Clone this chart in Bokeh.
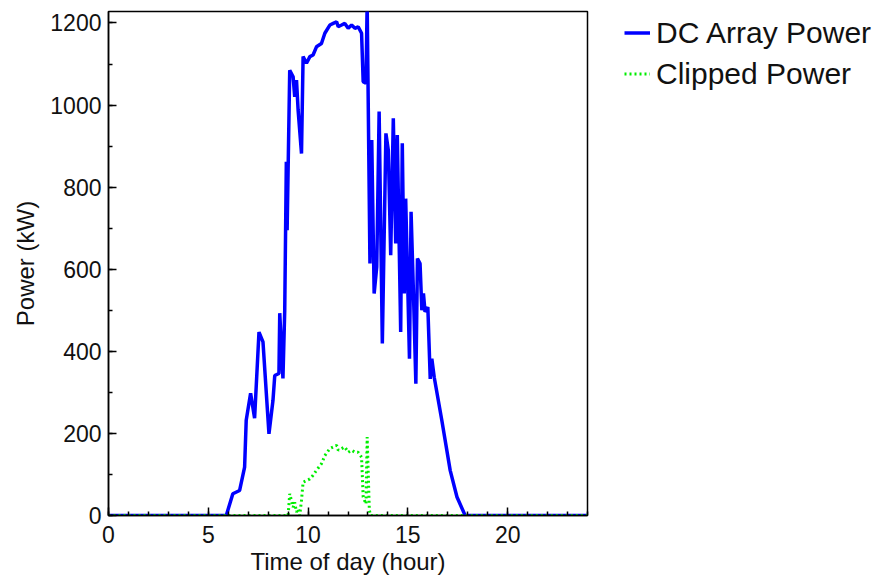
from bokeh.plotting import figure
from bokeh.models import Range1d, SingleIntervalTicker, Legend, LegendItem
from bokeh.embed import file_html
from bokeh.resources import INLINE

# DC array power (kW) vs time of day (hour)
dc_hour = [0.0, 5.9, 6.23, 6.57, 6.82, 6.90, 7.12, 7.32, 7.54, 7.74, 8.04, 8.24, 8.33, 8.54,
           8.58, 8.74, 8.83, 8.91, 8.95, 9.08, 9.25, 9.33, 9.42, 9.50, 9.67, 9.75, 9.92,
           10.09, 10.25, 10.42, 10.67, 10.84, 11.09, 11.26, 11.43, 11.51, 11.68, 11.84,
           12.01, 12.18, 12.35, 12.51, 12.68, 12.76, 12.90, 12.96, 13.10, 13.19, 13.31,
           13.44, 13.56, 13.72, 13.90, 14.02, 14.14, 14.27, 14.39, 14.47, 14.64, 14.72,
           14.82, 14.89, 15.08, 15.16, 15.28, 15.40, 15.48, 15.61, 15.70, 15.78, 15.86,
           16.00, 16.12, 16.20, 16.32, 16.70, 17.12, 17.46, 17.87, 24.0]
dc_power = [0, 0, 53, 61, 118, 232, 298, 237, 447, 423, 199, 280, 341, 346,
            493, 334, 500, 862, 695, 1085, 1069, 1020, 1061, 988, 882, 1118, 1102,
            1118, 1122, 1142, 1150, 1175, 1195, 1199, 1203, 1191, 1195, 1199,
            1187, 1195, 1187, 1191, 1175, 1057, 1053, 1250, 614, 915, 541,
            606, 984, 419, 931, 890, 634, 968, 663, 927, 447, 907,
            541, 772, 382, 740, 541, 321, 626, 614, 500, 541, 496,
            508, 333, 382, 337, 232, 110, 45, 0, 0]

# Clipped power (kW)
clip_hour = [0.0, 9.0, 9.08, 9.25, 9.33, 9.42, 9.50, 9.58, 9.67, 9.75, 9.92, 10.09, 10.25,
             10.42, 10.67, 10.84, 11.09, 11.26, 11.43, 11.51, 11.68, 11.84, 12.01, 12.18,
             12.35, 12.51, 12.68, 12.76, 12.90, 12.96, 13.07, 13.14, 24.0]
clip_power = [0, 0, 53, 20, 32, 8, 16, 0, 37, 81, 85, 89, 98,
              110, 126, 146, 163, 167, 171, 159, 163, 167, 154, 159,
              154, 154, 142, 45, 28, 191, 12, 0, 0]

x_ticks_interval = 5
y_ticks_interval = 200

FONT = "Liberation Sans"

p = figure(frame_width=479, frame_height=504, output_backend="svg", toolbar_location=None,
           x_range=Range1d(0, 24), y_range=Range1d(0, 1228),
           min_border_left=108, min_border_right=0, min_border_top=11, min_border_bottom=62)
p.xgrid.visible = False
p.ygrid.visible = False
p.outline_line_color = "black"
p.outline_line_width = 1.5
p.background_fill_color = "white"
p.border_fill_color = "white"

dc = p.line(dc_hour, dc_power, line_color="#0000ff", line_width=3.5)
cl = p.line(clip_hour, clip_power, line_color="#00ee00", line_width=3, line_dash="2 3")

p.xaxis.ticker = SingleIntervalTicker(interval=x_ticks_interval, num_minor_ticks=5)
p.yaxis.ticker = SingleIntervalTicker(interval=y_ticks_interval, num_minor_ticks=2)

for ax in (p.xaxis[0], p.yaxis[0]):
    ax.major_tick_in = 8
    ax.major_tick_out = 0
    ax.minor_tick_in = 4
    ax.minor_tick_out = 0
    ax.major_tick_line_color = "black"
    ax.minor_tick_line_color = "black"
    ax.major_tick_line_width = 1.5
    ax.minor_tick_line_width = 1.5
    ax.axis_line_color = "black"
    ax.axis_line_width = 1.5
    ax.major_label_text_font = FONT
    ax.major_label_text_font_size = "23px"
    ax.major_label_text_color = "#111111"
    ax.axis_label_text_font = FONT
    ax.axis_label_text_font_size = "24px"
    ax.axis_label_text_font_style = "normal"
    ax.axis_label_text_color = "#111111"

p.xaxis.major_label_standoff = 10
p.yaxis.major_label_standoff = 7
p.xaxis.axis_label = "Time of day (hour)"
p.yaxis.axis_label = "Power (kW)"
p.xaxis.axis_label_standoff = 2
p.yaxis.axis_label_standoff = 8

legend = Legend(items=[LegendItem(label="DC Array Power", renderers=[dc]),
                       LegendItem(label="Clipped Power", renderers=[cl])],
                location=(37, 424))
legend.label_text_font = FONT
legend.label_text_font_size = "30px"
legend.label_text_color = "#111111"
legend.glyph_width = 26
legend.label_standoff = 6
legend.label_height = 35
legend.glyph_height = 35
legend.spacing = 6
legend.padding = 4
legend.margin = 0
legend.border_line_color = None
legend.background_fill_alpha = 0
p.add_layout(legend, "right")

open("out.html", "w").write(file_html(p, INLINE))
